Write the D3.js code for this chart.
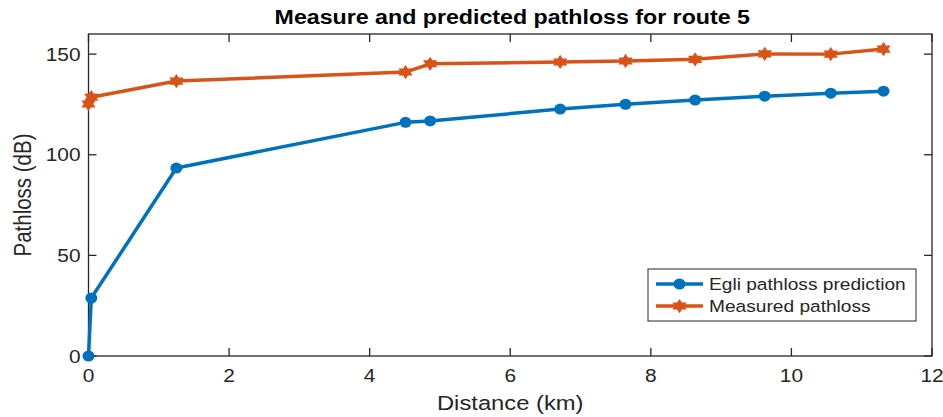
<!DOCTYPE html>
<html lang="en">
  <head>
    <meta charset="utf-8">
    <title>Measure and predicted pathloss for route 5</title>
    <script src="https://d3js.org/d3.v7.min.js"></script>
    <style>
      body { margin: 0; background: #fff; }
      text { font-family: "Liberation Sans", Arial, Helvetica, sans-serif; fill: #262626; }
    </style>
  </head>
  <body>
    <script>
      // distances (km) and pathloss values (dB)
      const distance = [0, 0.04, 1.25, 4.51, 4.86, 6.71, 7.64, 8.63, 9.62, 10.56, 11.31];
      const egli = [0, 28.8, 93.4, 116.1, 116.8, 122.7, 125.1, 127.2, 129.1, 130.6, 131.6];
      const measured = [125.2, 128.6, 136.6, 141.1, 145.2, 146.1, 146.6, 147.4, 150.1, 150.0, 152.5];
      const xTicks = [0, 2, 4, 6, 8, 10, 12];
      const yTicks = [0, 50, 100, 150];
      const seriesNames = ['Egli pathloss prediction', 'Measured pathloss'];

      const width = 943, height = 417;
      const margin = { top: 34, right: 11, bottom: 61, left: 88.5 };
      const sx = 1.16; // the original figure is a bit stretched sideways
      const blue = '#0072BD', orange = '#D95319', axisColor = '#262626';

      const svg = d3.select('body').append('svg')
          .attr('width', width)
          .attr('height', height);

      const x = d3.scaleLinear().domain([0, 12]).range([margin.left, width - margin.right]);
      const y = d3.scaleLinear().domain([0, 160]).range([height - margin.bottom, margin.top]);

      // text helper, stretched horizontally like the source picture
      function label(px, py, str, opts) {
        opts = opts || {};
        const t = svg.append('text')
            .attr('transform', `translate(${px},${py}) scale(${sx},1)` + (opts.rotate ? ` rotate(${opts.rotate})` : ''))
            .attr('text-anchor', opts.anchor || 'middle')
            .style('font-size', (opts.size || 18) + 'px')
            .text(str);
        if (opts.bold) t.style('font-weight', 'bold').style('fill', '#000');
        return t;
      }

      // axes box
      const x0 = x.range()[0], x1 = x.range()[1], y0 = y.range()[0], y1 = y.range()[1];
      svg.append('rect')
          .attr('x', x0).attr('y', y1)
          .attr('width', x1 - x0).attr('height', y0 - y1)
          .attr('fill', 'none').attr('stroke', axisColor).attr('stroke-width', 1.3);

      // ticks, inward on all four sides
      const tickLen = 8;
      xTicks.forEach(v => {
        svg.append('line').attr('x1', x(v)).attr('x2', x(v)).attr('y1', y0).attr('y2', y0 - tickLen)
            .attr('stroke', axisColor).attr('stroke-width', 1.3);
        svg.append('line').attr('x1', x(v)).attr('x2', x(v)).attr('y1', y1).attr('y2', y1 + tickLen)
            .attr('stroke', axisColor).attr('stroke-width', 1.3);
        label(x(v), 382, v, { size: 18 });
      });
      yTicks.forEach(v => {
        svg.append('line').attr('x1', x0).attr('x2', x0 + tickLen).attr('y1', y(v)).attr('y2', y(v))
            .attr('stroke', axisColor).attr('stroke-width', 1.3);
        svg.append('line').attr('x1', x1).attr('x2', x1 - tickLen).attr('y1', y(v)).attr('y2', y(v))
            .attr('stroke', axisColor).attr('stroke-width', 1.3);
        label(x0 - 8, y(v) + 6.5, v, { size: 18, anchor: 'end' });
      });

      label((x0 + x1) / 2 + 2, 24, 'Measure and predicted pathloss for route 5', { size: 20, bold: true });
      label((x0 + x1) / 2, 410, 'Distance (km)', { size: 20.5 });
      label(31, (y0 + y1) / 2, 'Pathloss (dB)', { size: 20.5, rotate: -90 });

      // hexagram marker path centred on 0,0
      function hexagram(r) {
        const pts = [];
        for (let i = 0; i < 12; i++) {
          const a = -Math.PI / 2 + i * Math.PI / 6;
          const rr = i % 2 === 0 ? r : r * 0.58;
          pts.push([rr * Math.cos(a), rr * Math.sin(a)]);
        }
        return d3.line()(pts) + 'Z';
      }

      const line = d3.line().x(d => x(d[0])).y(d => y(d[1]));
      const egliData = d3.zip(distance, egli);
      const measData = d3.zip(distance, measured);

      function drawSeries(data, color, marker) {
        svg.append('path')
            .attr('d', line(data))
            .attr('fill', 'none').attr('stroke', color)
            .attr('stroke-width', 3.5).attr('stroke-linejoin', 'round');
        const g = svg.append('g');
        data.forEach(d => {
          if (marker === 'circle') {
            g.append('ellipse').attr('cx', x(d[0])).attr('cy', y(d[1]))
                .attr('rx', 6).attr('ry', 5.5).attr('fill', color);
          } else {
            g.append('path').attr('d', hexagram(7.5))
                .attr('transform', `translate(${x(d[0])},${y(d[1])}) scale(${sx * 0.95},0.95)`)
                .attr('fill', color);
          }
        });
      }

      drawSeries(egliData, blue, 'circle');
      drawSeries(measData, orange, 'star');

      // legend
      const lg = { x: 648, y: 269, w: 268, h: 52 };
      svg.append('rect').attr('x', lg.x).attr('y', lg.y).attr('width', lg.w).attr('height', lg.h)
          .attr('fill', '#fff').attr('stroke', axisColor).attr('stroke-width', 1);
      const legendItems = [
        { name: seriesNames[0], color: blue, marker: 'circle', cy: 284 },
        { name: seriesNames[1], color: orange, marker: 'star', cy: 306 }
      ];
      legendItems.forEach(it => {
        svg.append('line').attr('x1', 656).attr('x2', 703).attr('y1', it.cy).attr('y2', it.cy)
            .attr('stroke', it.color).attr('stroke-width', 3.5);
        if (it.marker === 'circle') {
          svg.append('ellipse').attr('cx', 679.5).attr('cy', it.cy).attr('rx', 6).attr('ry', 5.5).attr('fill', it.color);
        } else {
          svg.append('path').attr('d', hexagram(7.5))
              .attr('transform', `translate(679.5,${it.cy}) scale(${sx * 0.95},0.95)`)
              .attr('fill', it.color);
        }
        label(709, it.cy + 6, it.name, { size: 16.5, anchor: 'start' });
      });
    </script>
  </body>
</html>
